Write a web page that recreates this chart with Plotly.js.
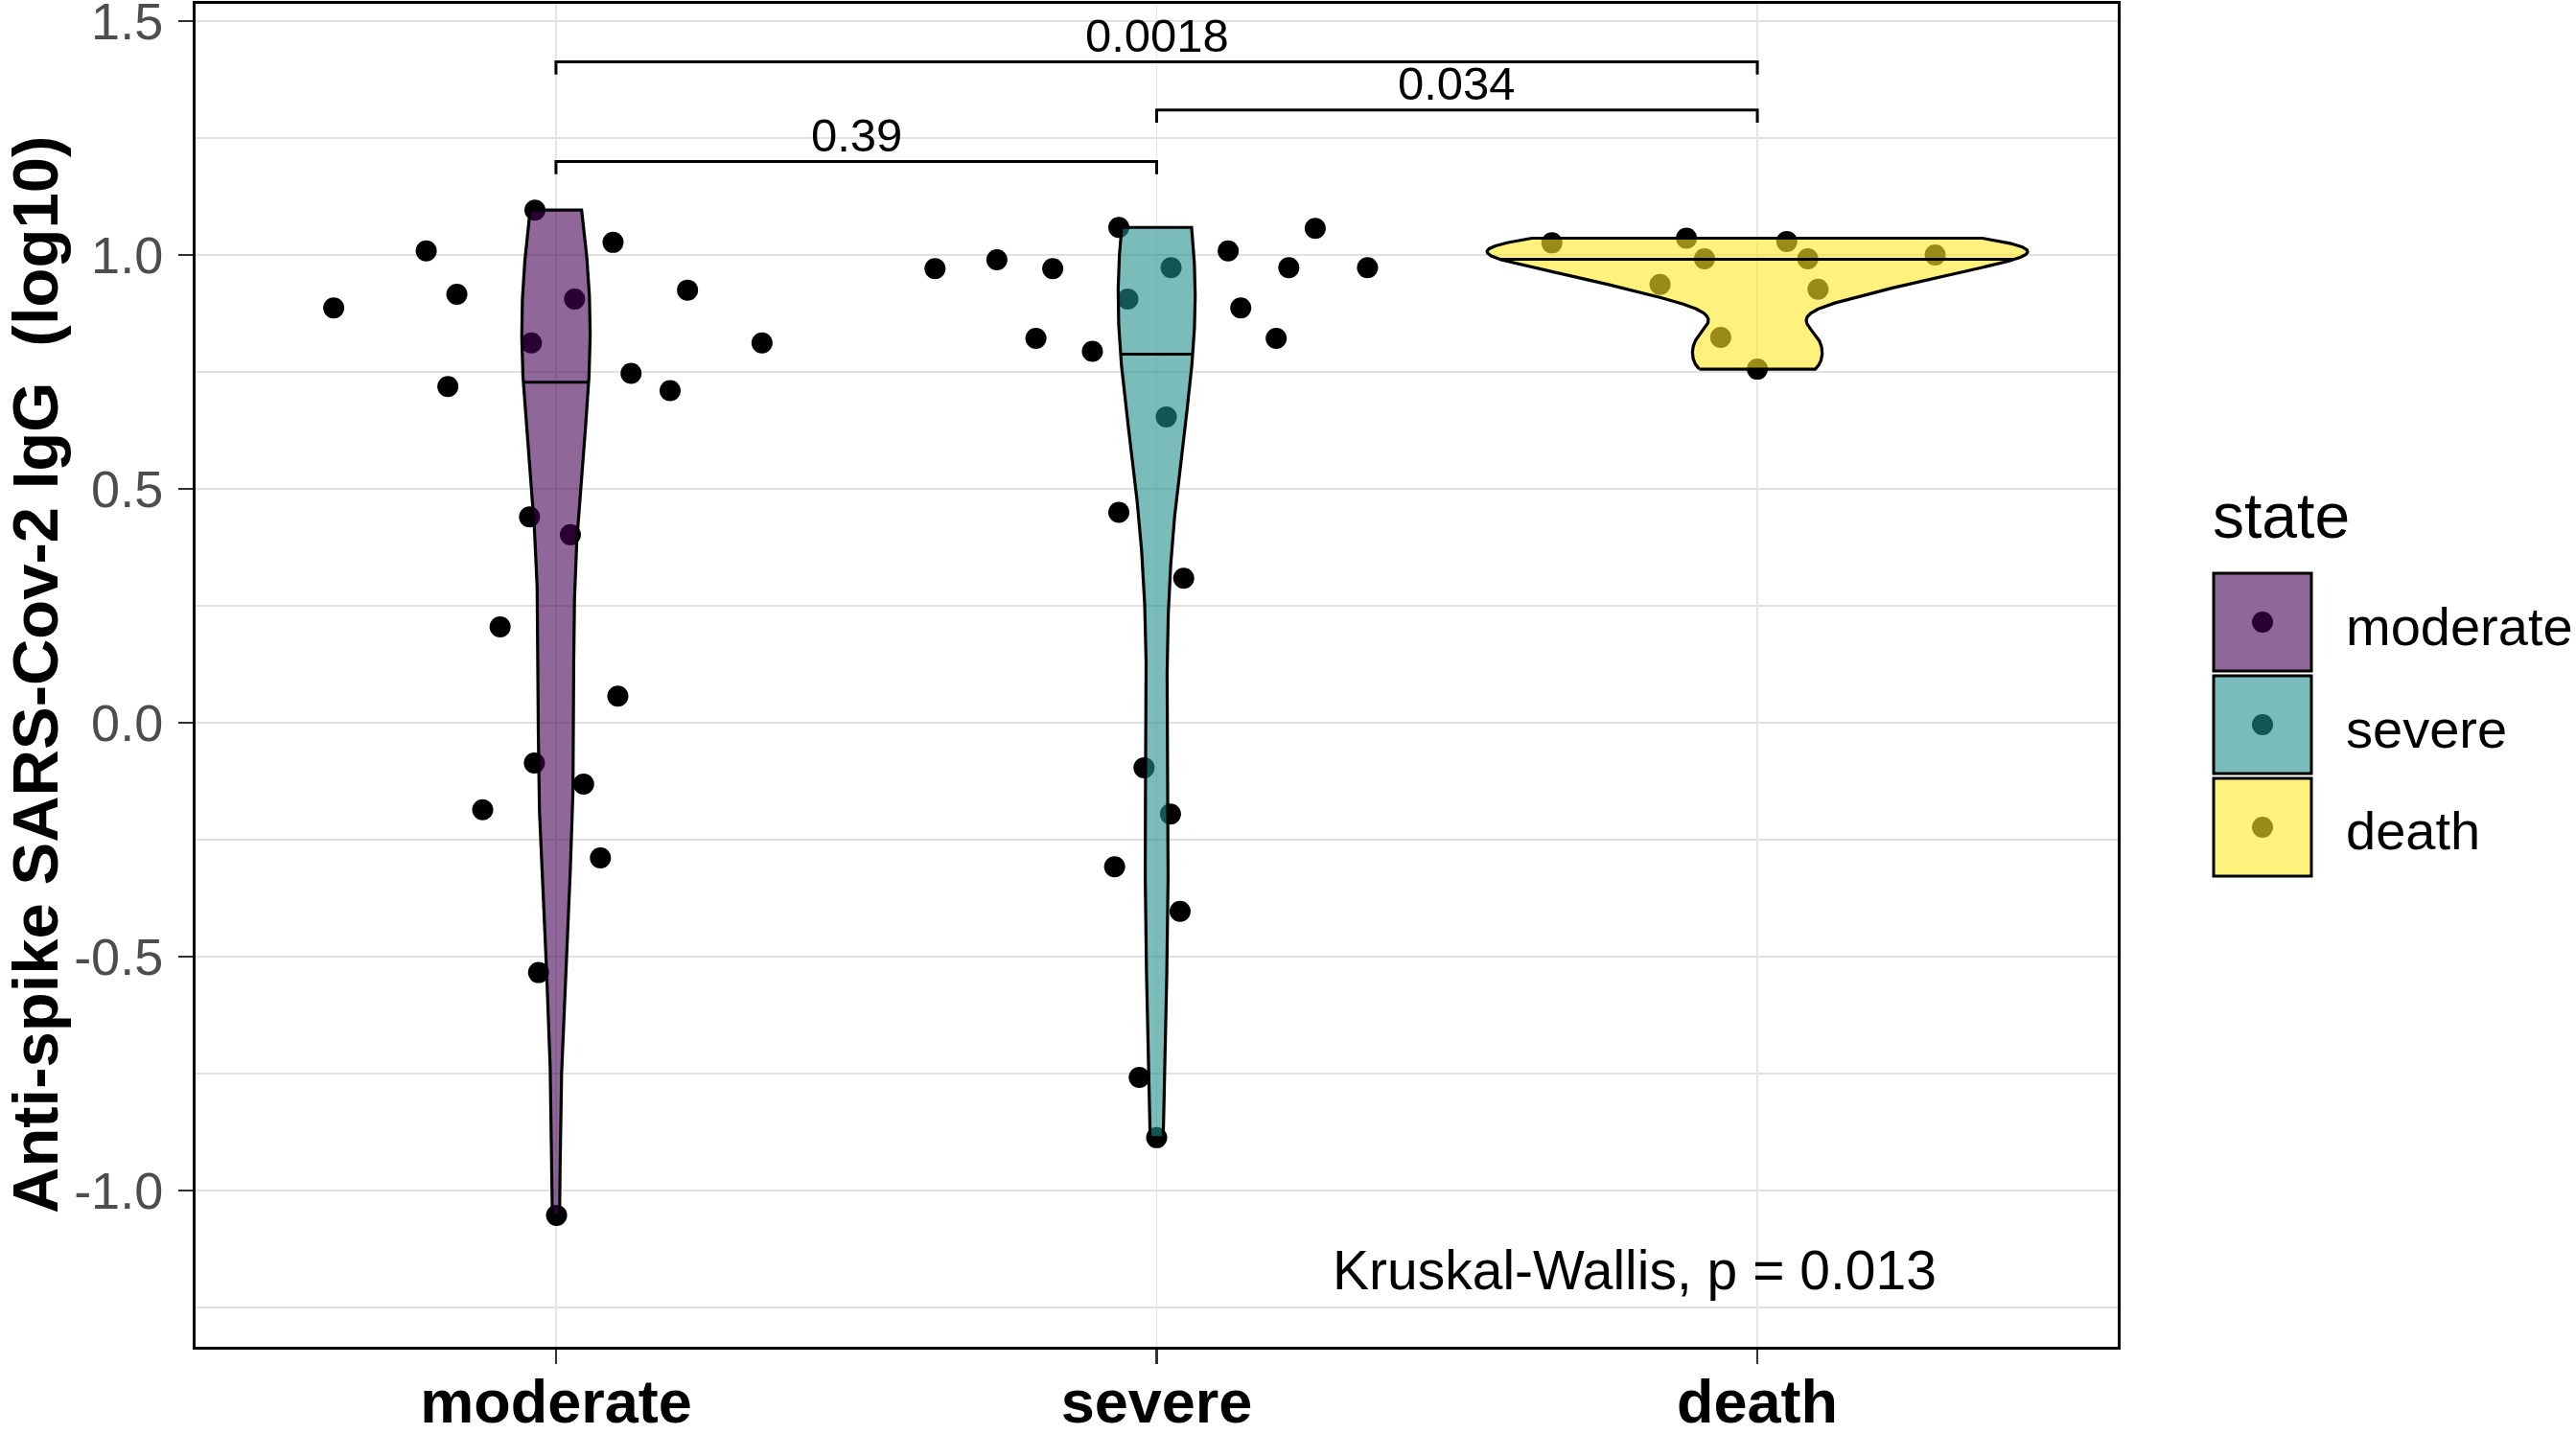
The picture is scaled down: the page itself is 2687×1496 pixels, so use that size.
<!DOCTYPE html>
<html>
<head>
<meta charset="utf-8">
<script src="https://cdn.plot.ly/plotly-3.0.1.min.js"></script>
<style>
  body { margin: 0; background: #fff; }
  #grafico { width: 2687px; height: 1496px; }
</style>
</head>
<body>
<div id="grafico"></div>
<script>
// categorias y valores (log10 IgG)
var categorias = ["moderate", "severe", "death"];

var valoresModerate = [0.887, 1.009, 0.916, 0.719, 1.096, 0.812, 0.906, 1.027, 0.747, 0.710, 0.925,
  0.812, 0.440, 0.402, 0.205, 0.057, -0.086, -0.131, -0.186, -0.289, -0.534, -1.053];
var jitterModerate = [-0.370, -0.216, -0.165, -0.180, -0.035, -0.041, 0.031, 0.095, 0.125, 0.190, 0.219,
  0.343, -0.044, 0.024, -0.093, 0.103, -0.036, 0.046, -0.122, 0.074, -0.029, 0.001];

var valoresSevere = [0.971, 0.990, 0.971, 0.822, 0.794, 1.059, 0.906, 0.973, 1.009, 0.887, 0.973, 0.822,
  1.057, 0.973, 0.654, 0.450, 0.309, -0.096, -0.195, -0.308, -0.403, -0.758, -0.887];
var jitterSevere = [-0.369, -0.266, -0.173, -0.201, -0.107, -0.063, -0.048, 0.024, 0.119, 0.140, 0.220, 0.199,
  0.264, 0.351, 0.016, -0.063, 0.045, -0.021, 0.023, -0.070, 0.039, -0.029, 0.000];

var valoresDeath = [1.026, 1.036, 0.992, 1.029, 0.992, 1.000, 0.937, 0.927, 0.824, 0.756];
var jitterDeath = [-0.342, -0.118, -0.088, 0.049, 0.084, 0.296, -0.162, 0.101, -0.061, 0.000];

// linea de mediana de cada violin
var medianas = [0.728, 0.788, 0.991];

// comparaciones (wilcoxon) y p de kruskal-wallis
var paresComparacion = [[0, 1], [1, 2], [0, 2]];
var valoresP = ["0.39", "0.034", "0.0018"];
var alturaCorchete = [1.200, 1.310, 1.413];
var textoKruskal = "Kruskal-Wallis, p = 0.013";

var ticksY = [-1.0, -0.5, 0.0, 0.5, 1.0, 1.5];
var etiquetasY = ["-1.0", "-0.5", "0.0", "0.5", "1.0", "1.5"];

var valoresGrupo = [valoresModerate, valoresSevere, valoresDeath];
var jitterGrupo = [jitterModerate, jitterSevere, jitterDeath];
var rellenos = ["rgba(68,1,84,0.6)", "rgba(33,144,140,0.6)", "rgba(253,231,37,0.6)"];

// densidad como geom_violin (bw.nrd0, trim, scale = "area")
function cuantil(ordenado, p) {
  var h = (ordenado.length - 1) * p;
  var lo = Math.floor(h);
  var hi = Math.min(lo + 1, ordenado.length - 1);
  return ordenado[lo] + (h - lo) * (ordenado[hi] - ordenado[lo]);
}
function bwNrd0(x) {
  var n = x.length;
  var media = x.reduce(function (a, b) { return a + b; }, 0) / n;
  var sd = Math.sqrt(x.reduce(function (a, b) { return a + (b - media) * (b - media); }, 0) / (n - 1));
  var ord = x.slice().sort(function (a, b) { return a - b; });
  var iqr = cuantil(ord, 0.75) - cuantil(ord, 0.25);
  var lo = Math.min(sd, iqr / 1.34);
  if (!(lo > 0)) lo = sd || 1;
  return 0.9 * lo * Math.pow(n, -0.2);
}
function densidad(x) {
  var bw = bwNrd0(x);
  var mn = Math.min.apply(null, x), mx = Math.max.apply(null, x);
  var ys = [], ds = [];
  for (var i = 0; i < 512; i++) {
    var y = mn + (mx - mn) * i / 511;
    var s = 0;
    x.forEach(function (v) { var z = (y - v) / bw; s += Math.exp(-0.5 * z * z); });
    ys.push(y);
    ds.push(s / (x.length * bw * Math.sqrt(2 * Math.PI)));
  }
  return { y: ys, d: ds };
}

var densidades = valoresGrupo.map(densidad);
var maxDens = Math.max.apply(null, densidades.map(function (o) { return Math.max.apply(null, o.d); }));

var data = [];

// puntos con jitter
valoresGrupo.forEach(function (vals, g) {
  data.push({
    x: jitterGrupo[g].map(function (j) { return g + j; }),
    y: vals,
    type: "scatter",
    mode: "markers",
    marker: { color: "black", size: 22 },
    showlegend: false,
    hoverinfo: "skip"
  });
});

// violines encima de los puntos
densidades.forEach(function (o, g) {
  var hw = o.d.map(function (d) { return 0.45 * d / maxDens; });
  var xs = [], ys = [];
  for (var i = 0; i < o.y.length; i++) { xs.push(g - hw[i]); ys.push(o.y[i]); }
  for (var k = o.y.length - 1; k >= 0; k--) { xs.push(g + hw[k]); ys.push(o.y[k]); }
  xs.push(xs[0]); ys.push(ys[0]);
  data.push({
    x: xs, y: ys,
    type: "scatter", mode: "lines", fill: "toself",
    fillcolor: rellenos[g],
    line: { color: "black", width: 3.2 },
    showlegend: false, hoverinfo: "skip"
  });

  // ancho del violin a la altura de la mediana
  var ym = medianas[g], wm = hw[0];
  for (var j = 1; j < o.y.length; j++) {
    if (o.y[j] >= ym) {
      var f = (ym - o.y[j - 1]) / (o.y[j] - o.y[j - 1]);
      wm = hw[j - 1] + f * (hw[j] - hw[j - 1]);
      break;
    }
  }
  data.push({
    x: [g - wm, g + wm], y: [ym, ym],
    type: "scatter", mode: "lines",
    line: { color: "black", width: 3 },
    showlegend: false, hoverinfo: "skip"
  });
});

// corchetes de comparacion
var anotaciones = [];
paresComparacion.forEach(function (par, i) {
  var h = alturaCorchete[i];
  data.push({
    x: [par[0], par[0], par[1], par[1]],
    y: [h - 0.027, h, h, h - 0.027],
    type: "scatter", mode: "lines",
    line: { color: "black", width: 3 },
    showlegend: false, hoverinfo: "skip"
  });
  anotaciones.push({
    x: (par[0] + par[1]) / 2, y: h + 0.056, xref: "x", yref: "y",
    text: valoresP[i], showarrow: false, xanchor: "center", yanchor: "middle",
    font: { size: 49, color: "black" }
  });
});

anotaciones.push({
  x: 1.796, y: -1.170, xref: "x", yref: "y",
  text: textoKruskal, showarrow: false, xanchor: "center", yanchor: "middle",
  font: { size: 57, color: "black" }
});

// titulo del eje y
var M = { l: 204, r: 478, t: 4, b: 91 };
var W = 2687 - M.l - M.r, H = 1496 - M.t - M.b;
function px(X) { return (X - M.l) / W; }
function py(Y) { return 1 - (Y - M.t) / H; }

anotaciones.push({
  x: px(37), y: py(704), xref: "paper", yref: "paper",
  text: "Anti-spike SARS-Cov-2 IgG\u00a0 (log10)", textangle: -90,
  showarrow: false, xanchor: "center", yanchor: "middle",
  font: { size: 67, color: "black", weight: "bold" }
});

// leyenda dibujada a mano
var figuras = [];
anotaciones.push({
  x: px(2306), y: py(538), xref: "paper", yref: "paper",
  text: "state", showarrow: false, xanchor: "left", yanchor: "middle",
  font: { size: 66, color: "black" }
});
categorias.forEach(function (cat, g) {
  var y0 = 598 + g * 107, y1 = y0 + 102;
  figuras.push({ type: "rect", xref: "paper", yref: "paper", x0: px(2309), x1: px(2411), y0: py(y1), y1: py(y0),
    fillcolor: "white", line: { width: 0 } });
  var cy = (y0 + y1) / 2;
  figuras.push({ type: "circle", xref: "paper", yref: "paper", x0: px(2349), x1: px(2371), y0: py(cy + 11), y1: py(cy - 11),
    fillcolor: "black", line: { width: 0 } });
  figuras.push({ type: "rect", xref: "paper", yref: "paper", x0: px(2309), x1: px(2411), y0: py(y1), y1: py(y0),
    fillcolor: rellenos[g], line: { color: "black", width: 3 } });
  anotaciones.push({
    x: px(2445), y: py(cy + 4), xref: "paper", yref: "paper",
    text: cat, showarrow: false, xanchor: "left", yanchor: "middle",
    font: { size: 56, color: "black" }
  });
});

var layout = {
  width: 2687, height: 1496,
  margin: M,
  paper_bgcolor: "white", plot_bgcolor: "white",
  font: { family: "Liberation Sans, Arial, sans-serif", color: "black" },
  showlegend: false,
  xaxis: {
    range: [-0.6, 2.6], zeroline: false,
    tickmode: "array", tickvals: [0, 1, 2], ticktext: categorias,
    showgrid: true, gridcolor: "#e6e6e6", gridwidth: 1.6,
    ticks: "outside", ticklen: 15, tickwidth: 2.5, tickcolor: "#333",
    tickfont: { size: 63, color: "black", weight: "bold" },
    ticklabelstandoff: -15, ticklabeloverflow: "allow",
    showline: true, mirror: true, linecolor: "black", linewidth: 3
  },
  yaxis: {
    range: [-1.334, 1.537], zeroline: false,
    tickmode: "array", tickvals: ticksY, ticktext: etiquetasY,
    showgrid: true, gridcolor: "#e1e1e1", gridwidth: 2.8,
    minor: { dtick: 0.25, tick0: 0, showgrid: true, gridcolor: "#e1e1e1", gridwidth: 2.4, ticks: "" },
    ticks: "outside", ticklen: 15, tickwidth: 2.5, tickcolor: "#333",
    tickfont: { size: 54, color: "#4d4d4d" },
    ticklabelstandoff: 5, ticklabeloverflow: "allow",
    showline: true, mirror: true, linecolor: "black", linewidth: 3
  },
  annotations: anotaciones,
  shapes: figuras
};

Plotly.newPlot("grafico", data, layout, { displayModeBar: false, staticPlot: true });
</script>
</body>
</html>
